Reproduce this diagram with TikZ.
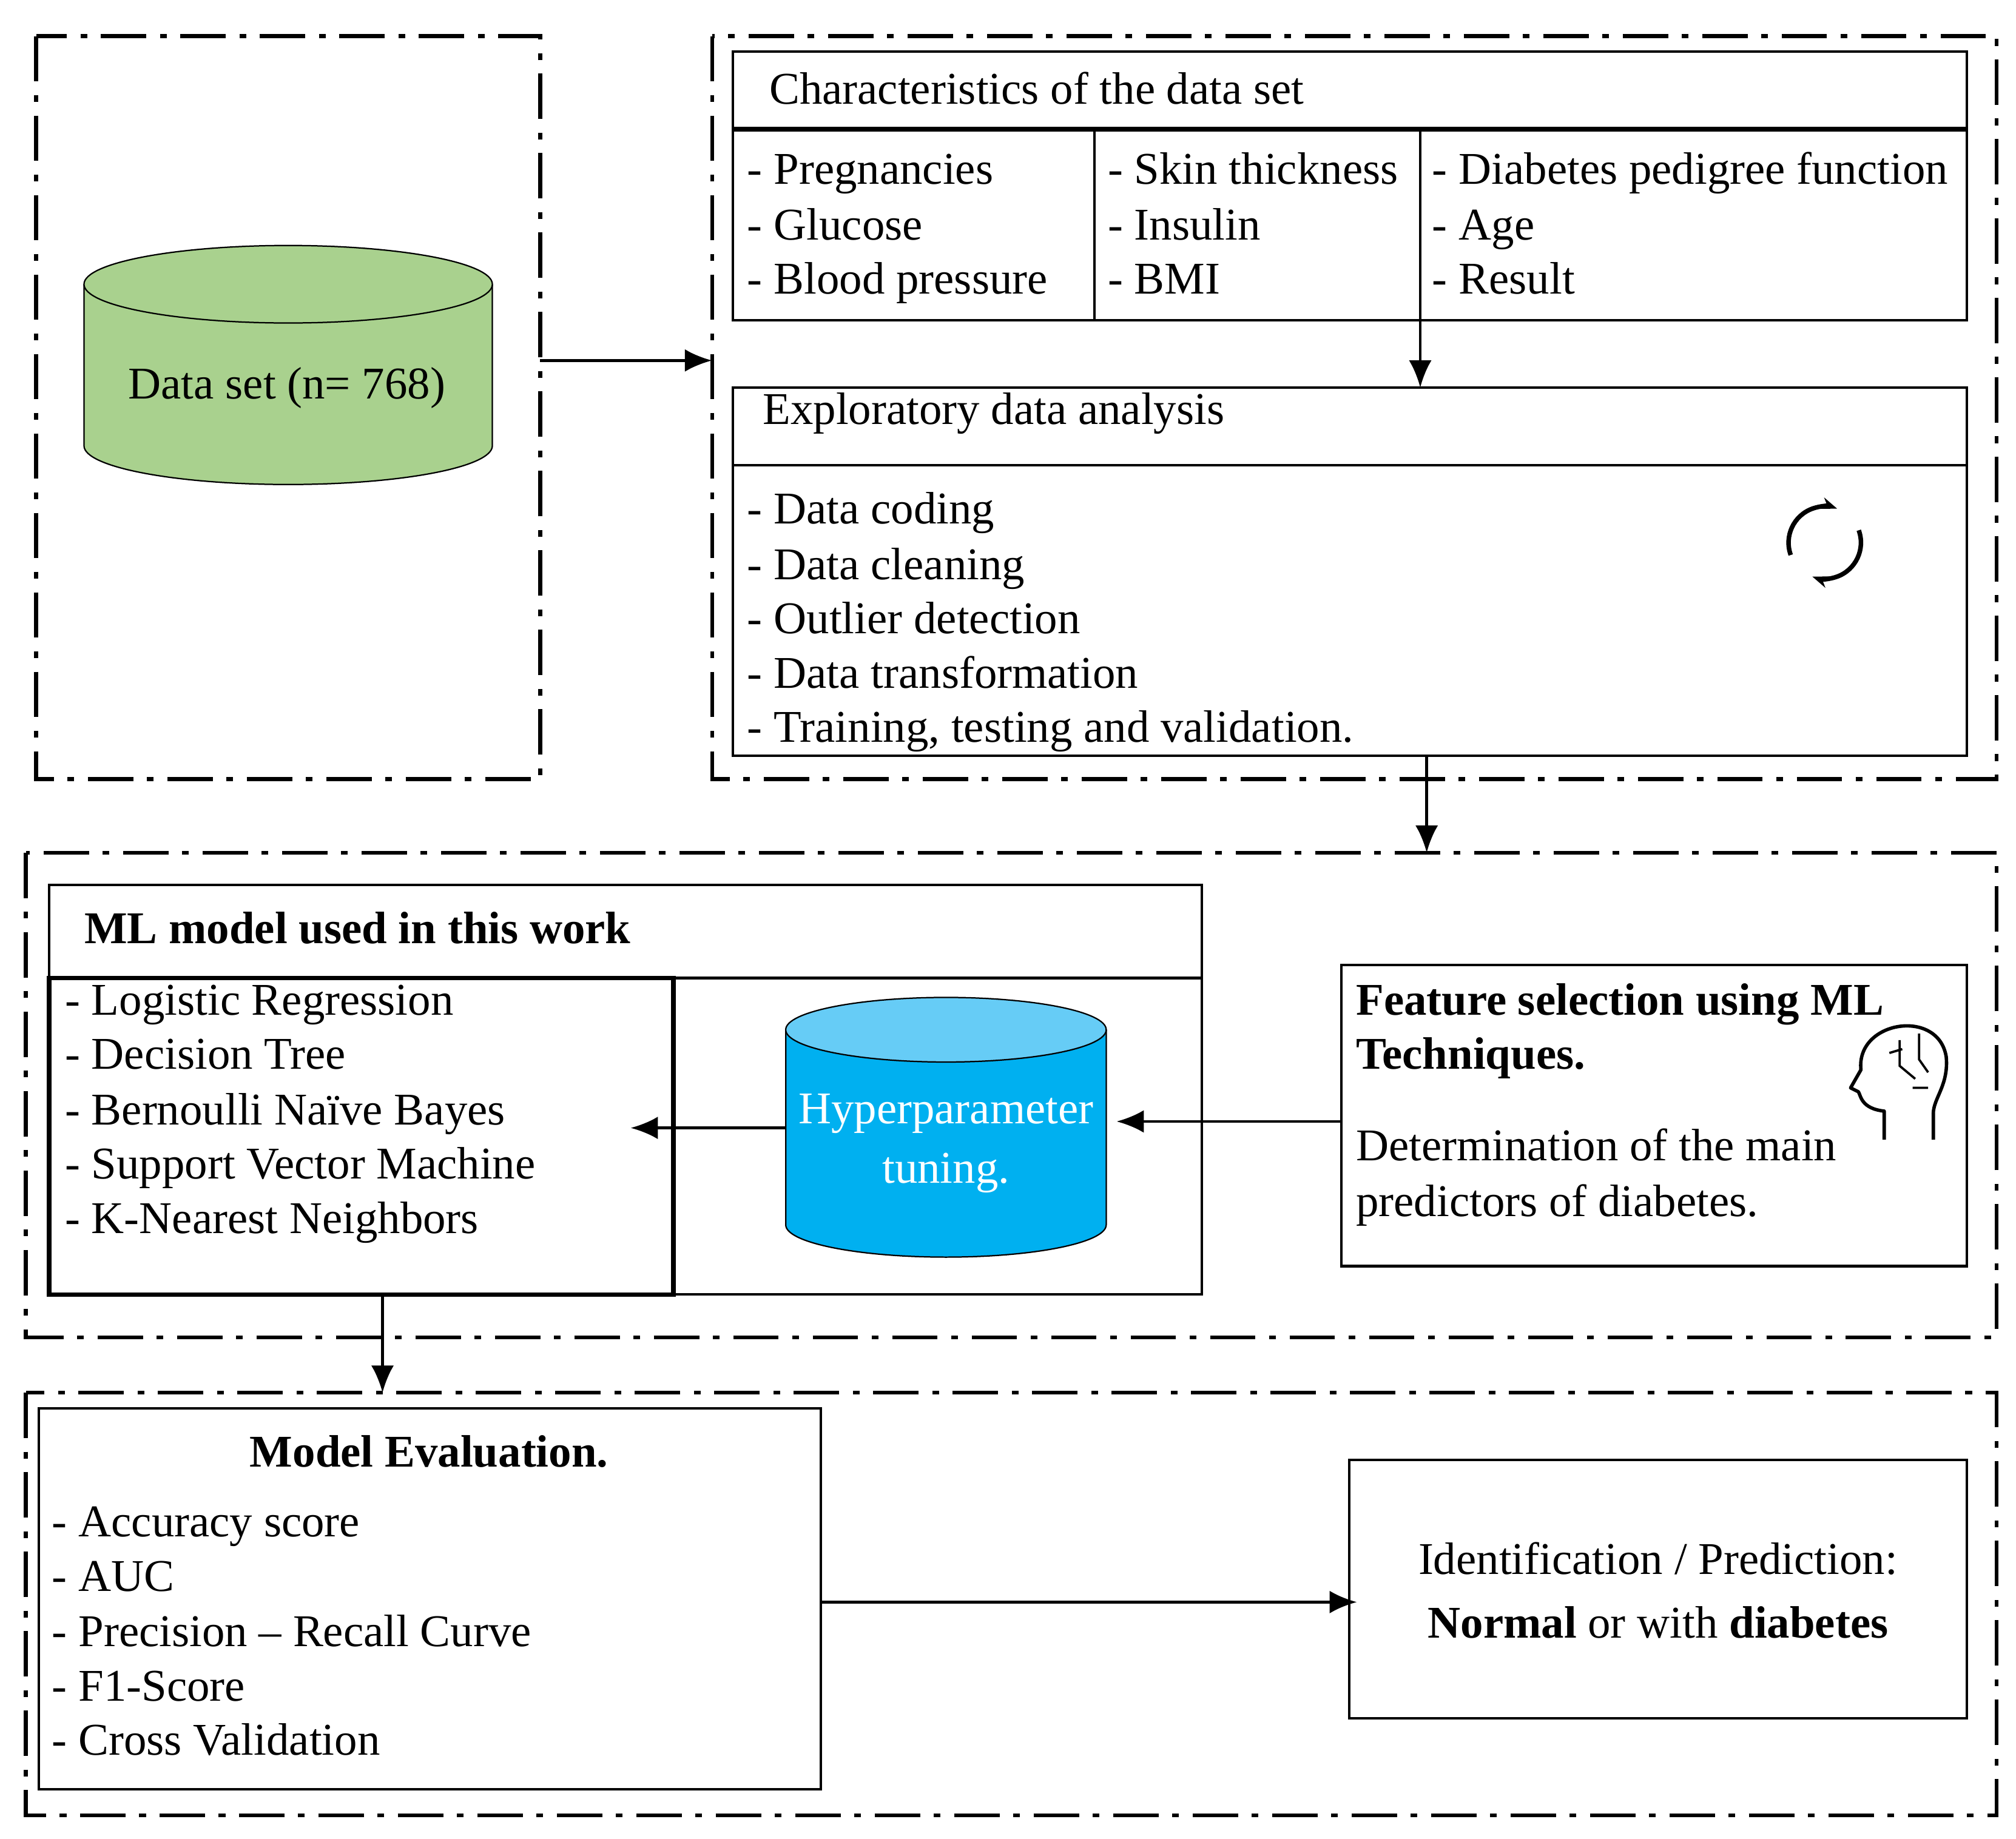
\documentclass[tikz,border=0pt]{standalone}
\usepackage{fontspec}
\setmainfont{Liberation Serif}
\usetikzlibrary{shapes.geometric,arrows.meta}
\begin{document}
\begin{tikzpicture}[x=0.02cm,y=-0.02cm,
 outer/.style={line width=1.7pt,dash pattern=on 20pt off 6pt on 3pt off 6pt},
 box/.style={draw,line width=1.1pt},
 arr/.style={line width=1.3pt,-{Latex[length=12pt,width=10pt]}},
 txt/.style={anchor=west,inner sep=0pt,font=\fontsize{20}{24}\selectfont},
 btxt/.style={txt,font=\fontsize{20}{24}\selectfont\bfseries}]
\useasboundingbox (0,0) rectangle (1560,1423);
% outer frames
\draw[outer] (28,28) rectangle (418,603);
\draw[outer] (551,28) rectangle (1545,603);
\draw[outer] (20,660) rectangle (1545,1035);
\draw[outer] (20,1078) rectangle (1545,1405);
% green cylinder
\draw[line width=0.6pt,fill={rgb,255:red,169;green,209;blue,142}] (65,220) -- (65,345) arc[x radius=158,y radius=30,start angle=180,end angle=0] -- (381,220);
\draw[line width=0.6pt,fill={rgb,255:red,169;green,209;blue,142}] (223,220) ellipse[x radius=158,y radius=30];
\node[font=\fontsize{20}{24}\selectfont] (ds) at (222,300) {Data set (n= 768)};
\coordinate (dsr) at (418,279); \coordinate (b2l) at (551,279);
\draw[arr] (dsr) -- (b2l);
% characteristics
\draw[box] (567,40) rectangle (1522,248);
\draw[line width=2.2pt] (567,100) -- (1522,100);
\draw[box] (847,100) -- (847,248) (1099,100) -- (1099,248);
\node[txt] (ch) at (595,72) {\strut Characteristics of the data set};
\foreach \t/\y in {Pregnancies/134,Glucose/177,Blood pressure/219}{\node[txt] at (578,\y) {\strut - \t};}
\foreach \t/\y in {Skin thickness/134,Insulin/177,BMI/219}{\node[txt] at (857,\y) {\strut - \t};}
\foreach \t/\y in {Diabetes pedigree function/134,Age/177,Result/219}{\node[txt] at (1108,\y) {\strut - \t};}
\coordinate (c1) at (1099,228); \coordinate (e1) at (1099,300);
\draw[arr] (c1) -- (e1);
% EDA
\draw[box] (567,300) rectangle (1522,585);
\draw[box] (567,360) -- (1522,360);
\node[txt] (eda) at (590,320) {\strut Exploratory data analysis};
\foreach \t/\y in {Data coding/397,Data cleaning/440,Outlier detection/482,Data transformation/524,{Training, testing and validation.}/566}{\node[txt] at (578,\y) {\strut - \t};}
\draw[line width=2pt,-{Stealth[length=7pt]}] (1412,420) ++(160:28) arc[radius=28,start angle=160,end angle=290];
\draw[line width=2pt,-{Stealth[length=7pt]}] (1412,420) ++(-20:28) arc[radius=28,start angle=-20,end angle=110];
\coordinate (e2) at (1104,585); \coordinate (m1) at (1104,660);
\draw[arr] (e2) -- (m1);
% ML model
\draw[box] (38,685) rectangle (930,1002);
\draw[box] (38,757) -- (930,757);
\draw[line width=2pt] (38,757) rectangle (521,1002);
\node[btxt] (ml) at (65,722) {\strut ML model used in this work};
\foreach \t/\y in {Logistic Regression/777,Decision Tree/819,Bernoulli Naïve Bayes/862,Support Vector Machine/904,K-Nearest Neighbors/946}{\node[txt] at (50,\y) {\strut - \t};}
% blue cylinder
\draw[line width=0.6pt,fill={rgb,255:red,0;green,176;blue,240}] (608,797) -- (608,948) arc[x radius=124,y radius=25,start angle=180,end angle=0] -- (856,797);
\draw[line width=0.6pt,fill={rgb,255:red,102;green,204;blue,246}] (732,797) ellipse[x radius=124,y radius=25];
\node[align=center,text=white,font=\fontsize{20}{26}\selectfont] (hp) at (732,885) {Hyperparameter\\tuning.};
\coordinate (hl) at (608,873); \coordinate (ll) at (488,873);
\draw[arr] (hl) -- (ll);
% feature selection
\draw[box] (1038,747) rectangle (1522,980);
\node[btxt] (fs) at (1049,777) {\strut Feature selection using ML};
\node[btxt] at (1049,819) {\strut Techniques.};
\node[txt] at (1049,890) {\strut Determination of the main};
\node[txt] at (1049,933) {\strut predictors of diabetes.};
\draw[line width=1.5pt,line join=round] (1458,882) -- (1458,860) .. controls (1440,858) and (1440,848) .. (1438,845) -- (1432,842) -- (1440,828) .. controls (1436,790) and (1500,780) .. (1506,818) .. controls (1508,840) and (1496,850) .. (1496,862) -- (1496,882);
\draw[line width=1pt] (1470,805) -- (1470,825) -- (1482,835) (1485,800) -- (1485,820) -- (1492,830) (1462,815) -- (1472,812) (1480,842) -- (1492,842);
\coordinate (fl) at (1038,868); \coordinate (hr) at (864,868);
\draw[arr] (fl) -- (hr);
\coordinate (m2) at (296,1002); \coordinate (v1) at (296,1078);
\draw[arr] (m2) -- (v1);
% evaluation
\draw[box] (30,1090) rectangle (635,1385);
\node[btxt,anchor=center] (ev) at (332,1127) {\strut Model Evaluation.};
\foreach \t/\y in {Accuracy score/1181,AUC/1223,Precision -- Recall Curve/1266,F1-Score/1308,Cross Validation/1350}{\node[txt] at (40,\y) {\strut - \t};}
\draw[box] (1044,1130) rectangle (1522,1330);
\node[align=center,font=\fontsize{20}{26}\selectfont] (res) at (1283,1231) {Identification / Prediction:\\[2pt]\textbf{Normal} or with \textbf{diabetes}};
\coordinate (vr) at (635,1240); \coordinate (rl) at (1050,1240);
\draw[arr] (vr) -- (rl);
\end{tikzpicture}
\end{document}
